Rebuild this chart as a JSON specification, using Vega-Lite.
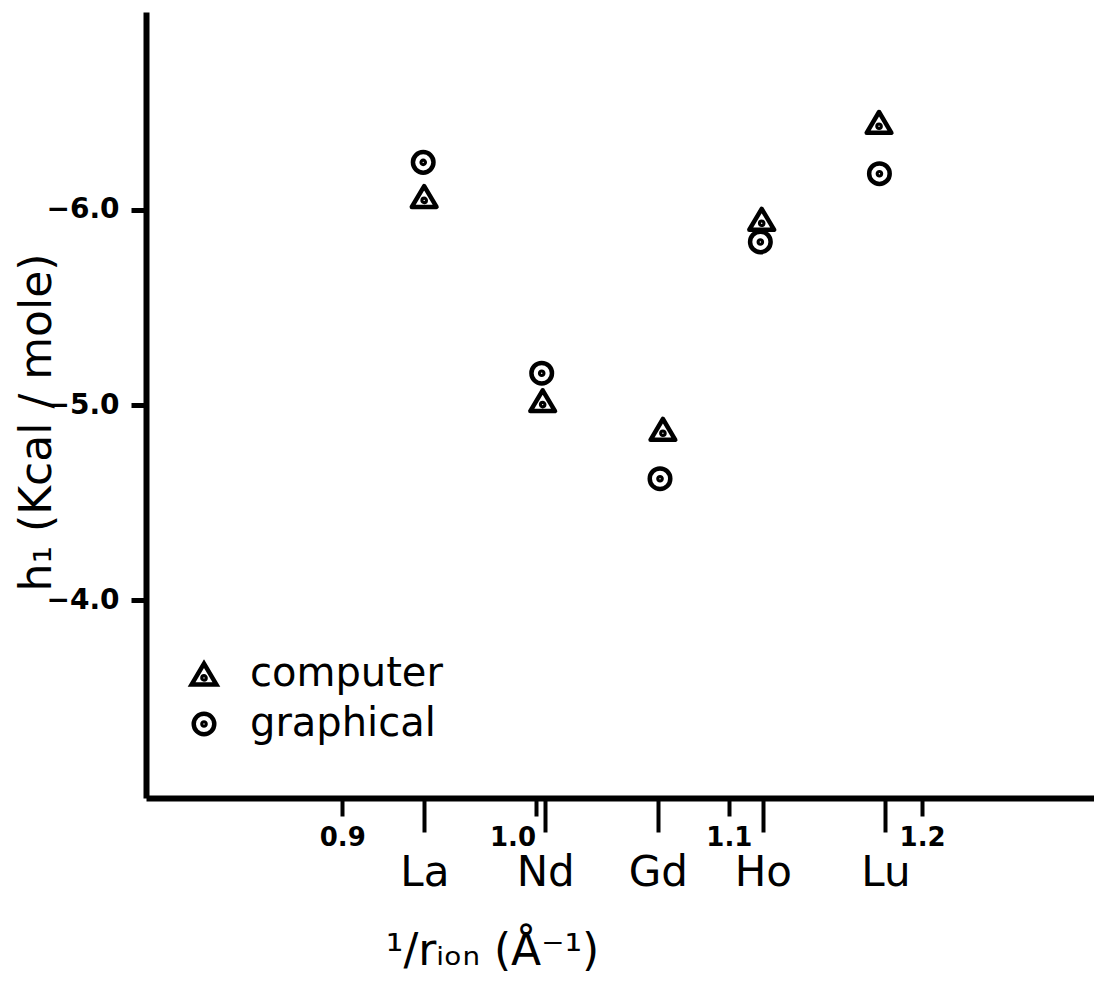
{
  "$schema": "https://vega.github.io/schema/vega-lite/v6.json",
  "width": 948,
  "height": 786,
  "autosize": {"type": "none"},
  "padding": {"left": 146, "top": 12, "right": 0, "bottom": 208},
  "background": "white",
  "config": {
    "view": {"stroke": null},
    "font": "DejaVu Sans",
    "axis": {"grid": false, "domainColor": "black", "tickColor": "black", "labelColor": "black", "titleColor": "black"}
  },
  "datasets": {
    "points": [
      {"element": "La", "method": "computer", "x": 0.9424, "h": -6.069},
      {"element": "La", "method": "graphical", "x": 0.9419, "h": -6.244},
      {"element": "Nd", "method": "computer", "x": 1.0037, "h": -5.022},
      {"element": "Nd", "method": "graphical", "x": 1.0032, "h": -5.163},
      {"element": "Gd", "method": "computer", "x": 1.0659, "h": -4.875},
      {"element": "Gd", "method": "graphical", "x": 1.0644, "h": -4.622},
      {"element": "Ho", "method": "computer", "x": 1.117, "h": -5.952},
      {"element": "Ho", "method": "graphical", "x": 1.1163, "h": -5.836},
      {"element": "Lu", "method": "computer", "x": 1.1777, "h": -6.449},
      {"element": "Lu", "method": "graphical", "x": 1.1779, "h": -6.186}
    ],
    "elements": [
      {"element": "La", "x": 0.9425},
      {"element": "Nd", "x": 1.005},
      {"element": "Gd", "x": 1.0633},
      {"element": "Ho", "x": 1.1176},
      {"element": "Lu", "x": 1.181}
    ]
  },
  "layer": [
    {
      "data": {"name": "points"},
      "mark": {"type": "point", "filled": false, "stroke": "black", "strokeWidth": 4.5, "strokeJoin": "round", "size": 676, "opacity": 1, "clip": false},
      "encoding": {
        "x": {
          "field": "x", "type": "quantitative",
          "scale": {"domain": [0.7985, 1.2889], "nice": false, "zero": false},
          "axis": {
            "orient": "bottom",
            "values": [0.9, 1.0, 1.1, 1.2],
            "format": ".1f",
            "domainWidth": 6,
            "tickSize": 18,
            "tickWidth": 4,
            "labelFontSize": 26,
            "labelFontWeight": "bold",
            "labelPadding": 8,
            "labelAlign": {"condition": {"test": "datum.value == 1", "value": "right"}, "value": "center"},
            "labelFlush": false,
            "labelOverlap": false,
            "title": "¹/rᵢₒₙ  (Å⁻¹)",
            "titleFontSize": 44,
            "titleFontWeight": "normal",
            "titleAlign": "center",
            "titleBaseline": "alphabetic",
            "titleX": 346,
            "titleY": 166
          }
        },
        "y": {
          "field": "h", "type": "quantitative",
          "scale": {"domain": [-7.015, -2.985], "reverse": true, "nice": false, "zero": false},
          "axis": {
            "values": [-6, -5, -4],
            "format": ".1f",
            "domainWidth": 6,
            "tickSize": 15,
            "tickWidth": 5,
            "labelFontSize": 28,
            "labelFontWeight": "bold",
            "labelPadding": 12,
            "title": "h₁  (Kcal / mole)",
            "titleFontSize": 44,
            "titleFontWeight": "normal",
            "titleAngle": 270,
            "titleAlign": "center",
            "titleBaseline": "alphabetic",
            "titleX": -96,
            "titleY": 410
          }
        },
        "shape": {
          "field": "method", "type": "nominal",
          "scale": {
            "domain": ["computer", "graphical"],
            "range": [
              "M0,-0.8L0.95,0.8L-0.95,0.8Z M0.12,0.3A0.12,0.12 0 1,1 -0.12,0.3A0.12,0.12 0 1,1 0.12,0.3Z",
              "M0.79,0A0.79,0.79 0 1,1 -0.79,0A0.79,0.79 0 1,1 0.79,0Z M0.12,0A0.12,0.12 0 1,1 -0.12,0A0.12,0.12 0 1,1 0.12,0Z"
            ]
          },
          "legend": {
            "orient": "none",
            "legendX": 38,
            "legendY": 642,
            "title": null,
            "padding": 0,
            "labelFontSize": 40,
            "labelLimit": 0,
            "labelColor": "black",
            "labelOffset": 26,
            "symbolSize": 676,
            "symbolStrokeWidth": 4.5,
            "symbolStrokeColor": "black",
            "symbolFillColor": "transparent",
            "rowPadding": 10
          }
        }
      }
    },
    {
      "data": {"name": "elements"},
      "mark": {"type": "point", "opacity": 0},
      "encoding": {
        "x": {
          "field": "x", "type": "quantitative",
          "scale": {"domain": [0.7985, 1.2889], "nice": false, "zero": false},
          "axis": {
            "orient": "bottom",
            "values": [0.9425, 1.005, 1.0633, 1.1176, 1.181],
            "labelExpr": "datum.value < 0.97 ? 'La' : datum.value < 1.03 ? 'Nd' : datum.value < 1.09 ? 'Gd' : datum.value < 1.15 ? 'Ho' : 'Lu'",
            "domain": false,
            "tickSize": 34,
            "tickWidth": 4,
            "labelFontSize": 42,
            "labelPadding": 20,
            "labelFlush": false,
            "labelOverlap": false,
            "title": null
          }
        }
      }
    }
  ],
  "resolve": {"axis": {"x": "independent"}}
}
